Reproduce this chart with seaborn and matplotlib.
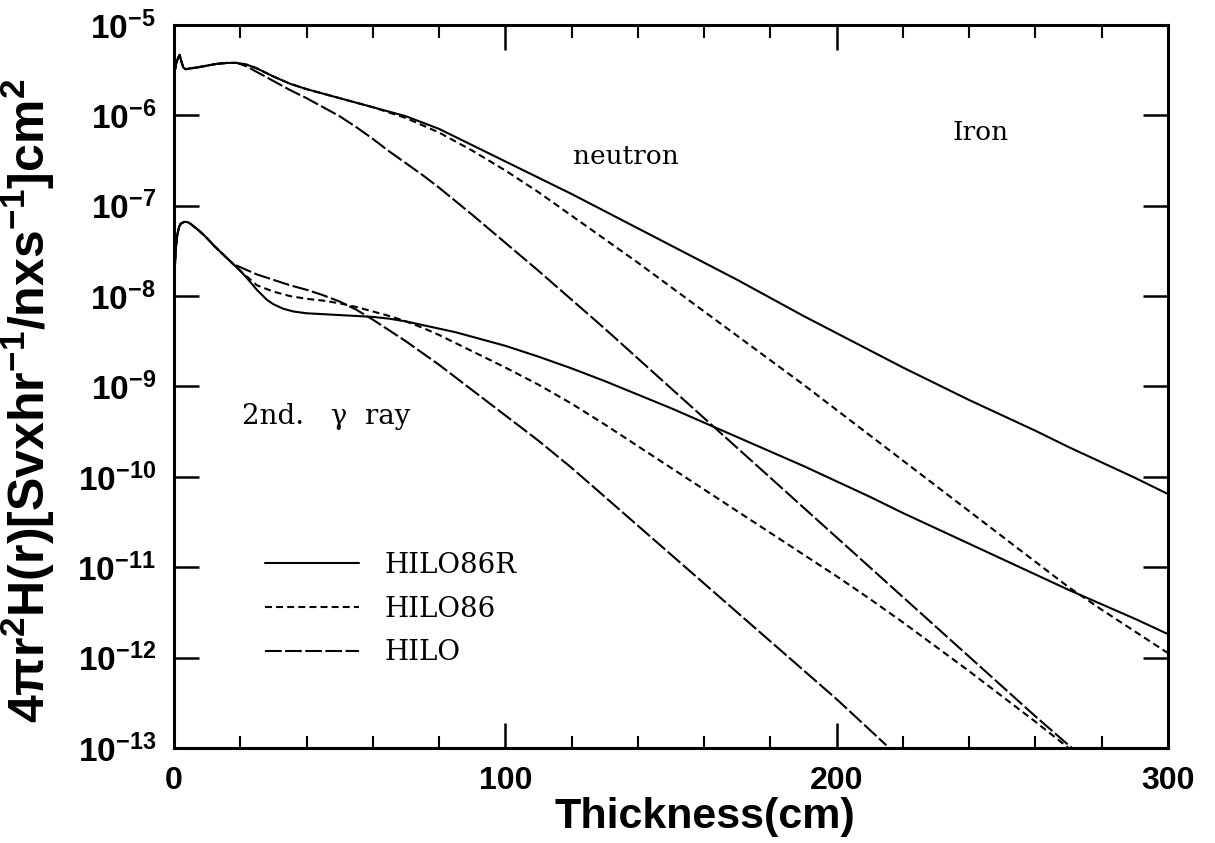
import numpy as np
import pandas as pd
import matplotlib
matplotlib.use("Agg")
import matplotlib.pyplot as plt
from matplotlib.lines import Line2D
from matplotlib.ticker import FixedLocator, MultipleLocator
import seaborn as sns

sns.set_theme(style="ticks")
plt.rcParams["font.family"] = ["Liberation Sans", "DejaVu Sans"]
plt.rcParams["mathtext.fontset"] = "custom"
plt.rcParams["mathtext.rm"] = "Liberation Sans"
plt.rcParams["mathtext.bf"] = "Liberation Sans:bold"
plt.rcParams["mathtext.it"] = "Liberation Sans:italic"
plt.rcParams["lines.scale_dashes"] = False
for key in ["text.color", "axes.labelcolor", "xtick.color", "ytick.color", "axes.edgecolor"]:
    plt.rcParams[key] = "black"

# ---------------- data (log10 of dose values) ----------------
libraries = ["HILO86R", "HILO86", "HILO"]

neutron_head_x = [0, 0.3, 0.7, 1.2, 1.7, 2.2, 2.8, 3.5, 5, 7, 10, 13, 16, 19]
neutron_head_log = [-5.75, -5.50, -5.42, -5.37, -5.33, -5.40, -5.47, -5.49, -5.48,
                    -5.47, -5.45, -5.43, -5.42, -5.42]

n_hilo86r_x = [22, 25, 30, 35, 40, 45, 50, 55, 60, 65, 70, 75, 80, 85, 90, 95, 100,
               110, 120, 130, 140, 150, 160, 170, 180, 190, 200, 210, 220, 230, 240,
               250, 260, 270, 280, 290, 300]
n_hilo86r_log = [-5.44, -5.48, -5.57, -5.65, -5.71, -5.76, -5.81, -5.86, -5.91, -5.96,
                 -6.01, -6.08, -6.15, -6.24, -6.33, -6.42, -6.51, -6.69, -6.87, -7.06,
                 -7.25, -7.44, -7.63, -7.82, -8.02, -8.22, -8.41, -8.60, -8.79, -8.97,
                 -9.15, -9.32, -9.49, -9.67, -9.84, -10.01, -10.19]

n_hilo86_x = n_hilo86r_x
n_hilo86_log = [-5.44, -5.48, -5.57, -5.65, -5.71, -5.76, -5.81, -5.86, -5.91, -5.97,
                -6.03, -6.11, -6.19, -6.29, -6.39, -6.50, -6.61, -6.85, -7.11, -7.37,
                -7.63, -7.90, -8.17, -8.44, -8.71, -8.98, -9.26, -9.54, -9.82, -10.10,
                -10.38, -10.66, -10.94, -11.22, -11.47, -11.71, -11.95]

n_hilo_x = [22, 25, 30, 35, 40, 45, 50, 55, 60, 65, 70, 75, 80, 85, 90, 100, 110, 120,
            130, 140, 150, 160, 170, 180, 190, 200, 210, 220, 230, 240, 250, 260, 271]
n_hilo_log = [-5.46, -5.52, -5.62, -5.72, -5.81, -5.91, -6.01, -6.13, -6.26, -6.40,
              -6.53, -6.66, -6.80, -6.95, -7.10, -7.41, -7.72, -8.04, -8.36, -8.69,
              -9.02, -9.35, -9.68, -10.01, -10.34, -10.67, -11.00, -11.33, -11.66,
              -11.99, -12.32, -12.65, -13.0]

gamma_head_x = [0, 0.3, 0.6, 1, 1.5, 2, 3, 4, 5, 6, 8, 10, 12, 14, 16, 18]
gamma_head_log = [-7.95, -7.65, -7.45, -7.32, -7.24, -7.20, -7.18, -7.18, -7.20, -7.23,
                  -7.29, -7.36, -7.44, -7.51, -7.58, -7.65]

g_hilo86r_x = [20, 22, 25, 28, 30, 33, 36, 40, 45, 50, 55, 60, 65, 70, 75, 80, 85, 90,
               95, 100, 110, 120, 130, 140, 150, 160, 170, 180, 190, 200, 210, 220, 230,
               240, 250, 260, 270, 280, 290, 300]
g_hilo86r_log = [-7.72, -7.80, -7.93, -8.04, -8.09, -8.14, -8.17, -8.19, -8.20, -8.21,
                 -8.22, -8.23, -8.25, -8.28, -8.32, -8.36, -8.40, -8.45, -8.50, -8.55,
                 -8.67, -8.80, -8.94, -9.09, -9.24, -9.40, -9.56, -9.72, -9.88, -10.05,
                 -10.22, -10.40, -10.57, -10.74, -10.91, -11.08, -11.25, -11.41, -11.57,
                 -11.74]

g_hilo86_x = [20, 25, 30, 35, 40, 45, 50, 55, 60, 65, 70, 75, 80, 85, 90, 95, 100, 110,
              120, 130, 140, 150, 160, 170, 180, 190, 200, 210, 220, 230, 240, 250, 260,
              270]
g_hilo86_log = [-7.72, -7.88, -7.95, -8.00, -8.03, -8.05, -8.08, -8.12, -8.17, -8.22,
                -8.28, -8.35, -8.43, -8.52, -8.61, -8.70, -8.79, -8.98, -9.19, -9.42,
                -9.66, -9.90, -10.14, -10.38, -10.62, -10.86, -11.10, -11.35, -11.61,
                -11.88, -12.15, -12.43, -12.71, -13.00]

g_hilo_x = [20, 25, 30, 35, 40, 45, 50, 55, 60, 65, 70, 75, 80, 85, 90, 95, 100, 105,
            110, 115, 120, 130, 140, 150, 160, 170, 180, 190, 200, 210, 215]
g_hilo_log = [-7.68, -7.76, -7.82, -7.88, -7.93, -7.99, -8.06, -8.15, -8.26, -8.38,
              -8.50, -8.63, -8.76, -8.90, -9.04, -9.18, -9.32, -9.46, -9.60, -9.75,
              -9.90, -10.22, -10.54, -10.86, -11.18, -11.50, -11.82, -12.14, -12.46,
              -12.80, -12.97]

ytick_exponents = [-13, -12, -11, -10, -9, -8, -7, -6, -5]
xtick_major = [0, 100, 200, 300]

# ---------------- build long-form table ----------------
rows = []
series = [
    ("neutron", "HILO86R", neutron_head_x + n_hilo86r_x, neutron_head_log + n_hilo86r_log),
    ("neutron", "HILO86", neutron_head_x + n_hilo86_x, neutron_head_log + n_hilo86_log),
    ("neutron", "HILO", neutron_head_x + n_hilo_x, neutron_head_log + n_hilo_log),
    ("gamma", "HILO86R", gamma_head_x + g_hilo86r_x, gamma_head_log + g_hilo86r_log),
    ("gamma", "HILO86", gamma_head_x + g_hilo86_x, gamma_head_log + g_hilo86_log),
    ("gamma", "HILO", gamma_head_x + g_hilo_x, gamma_head_log + g_hilo_log),
]
for particle, lib, xs, ls in series:
    for xv, lv in zip(xs, ls):
        rows.append({"particle": particle, "library": lib, "thickness": xv,
                     "dose": 10.0 ** lv})
df = pd.DataFrame(rows)

dash_map = {"HILO86R": "", "HILO86": (5, 3), "HILO": (12, 2.5)}

# ---------------- figure ----------------
fig = plt.figure(figsize=(12.15, 8.43), dpi=100)
ax = fig.add_axes([0.1432, 0.1127, 0.8181, 0.8577])

sns.lineplot(data=df, x="thickness", y="dose", style="library", units="particle",
             estimator=None, dashes=dash_map, color="black", linewidth=1.5,
             legend=False, sort=False, ax=ax)

ax.set_yscale("log")
ax.set_xlim(0, 300)
ax.set_ylim(1e-13, 1e-5)

ax.xaxis.set_major_locator(FixedLocator(xtick_major))
ax.xaxis.set_minor_locator(MultipleLocator(20))
ax.set_xticklabels([str(v) for v in xtick_major])
ax.yaxis.set_major_locator(FixedLocator([10.0 ** e for e in ytick_exponents]))
ax.yaxis.set_minor_locator(FixedLocator([]))
ax.set_yticklabels([r"$\mathbf{10^{%d}}$" % e for e in ytick_exponents])

ax.tick_params(axis="both", which="major", direction="in", length=18, width=1.8,
               top=True, right=True, colors="black")
ax.tick_params(axis="x", which="minor", direction="in", length=9, width=1.5,
               top=True, bottom=True)
ax.tick_params(axis="x", which="major", labelsize=23, pad=13)
ax.tick_params(axis="y", which="major", labelsize=24, pad=13)
for lab in ax.get_xticklabels():
    lab.set_fontweight("bold")
for sp in ax.spines.values():
    sp.set_linewidth(2.2)
    sp.set_color("black")

ax.set_xlabel("Thickness(cm)", fontsize=31, fontweight="bold")
ax.xaxis.set_label_coords(0.534, -0.068)
ax.set_ylabel(r"$\mathbf{4\pi r^{2}H(r)[Svxhr^{-1}/nxs^{-1}]cm^{2}}$", fontsize=36)
ax.yaxis.set_label_coords(-0.118, 0.48)

serif = ["DejaVu Serif"]
ax.text(120.4, 10 ** -6.46, "neutron", fontsize=19, family=serif, va="center", ha="left")
ax.text(235, 10 ** -6.19, "Iron", fontsize=19, family=serif, va="center", ha="left")
ax.text(20.5, 10 ** -9.33, "2nd.   γ  ray", fontsize=20, family=serif, va="center",
        ha="left")

handles = []
for l in libraries:
    h = Line2D([], [], color="black", lw=1.5)
    if dash_map[l]:
        h.set_dashes(dash_map[l])
    handles.append(h)
leg = ax.legend(handles, libraries, loc="upper left",
                bbox_to_anchor=(265 / 1215, 1 - 552 / 843),
                bbox_transform=fig.transFigure, frameon=False,
                prop={"family": "DejaVu Serif", "size": 20},
                handlelength=3.4, handletextpad=0.9, labelspacing=0.6,
                borderpad=0, borderaxespad=0)

fig.savefig("out.png", dpi=100)
